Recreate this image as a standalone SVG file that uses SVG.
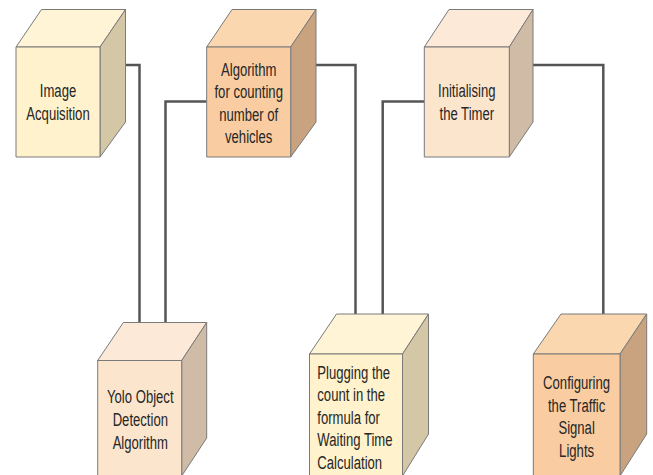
<svg xmlns="http://www.w3.org/2000/svg" width="653" height="475" viewBox="0 0 653 475">
  <style>
    .edge { stroke: #7a7a7a; stroke-width: 1; stroke-linejoin: round; }
    .yel-front { fill: #FFF2CC; }
    .yel-top { fill: #FFF4D6; }
    .yel-side { fill: #D3C7A6; }
    .org-front { fill: #F9CDA1; }
    .org-top { fill: #FBD7AF; }
    .org-side { fill: #C9A380; }
    .pch-front { fill: #FCE5CD; }
    .pch-top { fill: #FDE9D7; }
    .pch-side { fill: #CFBBA6; }
    .label { font-family: "Liberation Sans", Arial, sans-serif; font-size: 19px; fill: #262626; }
    .wire { fill: none; stroke: #555555; stroke-width: 2.5; stroke-linejoin: miter; }
  </style>
  <rect width="653" height="475" fill="#ffffff"/>

  <!-- connectors -->
  <g id="connectors">
    <path class="wire" d="M125.5,65 H139.5 V360.5"/>
    <path class="wire" d="M165.5,322.5 V101.5 H206.7"/>
    <path class="wire" d="M315.7,65 H355.5 V354"/>
    <path class="wire" d="M382.7,314 V101.5 H424.3"/>
    <path class="wire" d="M533,65 H603.3 V314"/>
  </g>

  <!-- Image Acquisition -->
  <g id="image-acquisition">
    <polygon class="yel-top edge" points="16,47 41.5,9.5 125.5,9.5 100,47"/>
    <polygon class="yel-side edge" points="100,47 125.5,9.5 125.5,122 100,157"/>
    <rect class="yel-front edge" x="16" y="47" width="84" height="110"/>
    <g transform="translate(58,0) scale(0.69,1)">
      <text class="label" text-anchor="middle" x="0" y="97">Image</text>
      <text class="label" text-anchor="middle" x="0" y="119.6">Acquisition</text>
    </g>
  </g>

  <!-- Algorithm for counting number of vehicles -->
  <g id="counting-algorithm">
    <polygon class="org-top edge" points="206.7,47 232,9.5 316,9.5 290.7,47"/>
    <polygon class="org-side edge" points="290.7,47 316,9.5 316,122 290.7,157"/>
    <rect class="org-front edge" x="206.7" y="47" width="84" height="110"/>
    <g transform="translate(248.7,0) scale(0.69,1)">
      <text class="label" text-anchor="middle" x="0" y="75.7">Algorithm</text>
      <text class="label" text-anchor="middle" x="0" y="98.3">for counting</text>
      <text class="label" text-anchor="middle" x="0" y="120.9">number of</text>
      <text class="label" text-anchor="middle" x="0" y="143.5">vehicles</text>
    </g>
  </g>

  <!-- Initialising the Timer -->
  <g id="init-timer">
    <polygon class="pch-top edge" points="424.3,47 449,9.5 533,9.5 509.3,47"/>
    <polygon class="pch-side edge" points="509.3,47 533,9.5 533,122 509.3,157"/>
    <rect class="pch-front edge" x="424.3" y="47" width="85" height="110"/>
    <g transform="translate(466.8,0) scale(0.69,1)">
      <text class="label" text-anchor="middle" x="0" y="97.5">Initialising</text>
      <text class="label" text-anchor="middle" x="0" y="120.1">the Timer</text>
    </g>
  </g>

  <!-- Yolo Object Detection Algorithm -->
  <g id="yolo-detection">
    <polygon class="pch-top edge" points="97.7,360.5 123.3,322.5 206.7,322.5 181.7,360.5"/>
    <polygon class="pch-side edge" points="181.7,360.5 206.7,322.5 206.7,438 181.7,476"/>
    <rect class="pch-front edge" x="97.7" y="360.5" width="84" height="116"/>
    <g transform="translate(140.3,0) scale(0.69,1)">
      <text class="label" text-anchor="middle" x="0" y="403.5">Yolo Object</text>
      <text class="label" text-anchor="middle" x="0" y="426.1">Detection</text>
      <text class="label" text-anchor="middle" x="0" y="448.7">Algorithm</text>
    </g>
  </g>

  <!-- Plugging the count into the waiting time formula -->
  <g id="waiting-time">
    <polygon class="yel-top edge" points="309.5,354 336.5,314 428.5,314 402.5,354"/>
    <polygon class="yel-side edge" points="402.5,354 428.5,314 428.5,434 402.5,476"/>
    <rect class="yel-front edge" x="309.5" y="354" width="93" height="122"/>
    <g transform="translate(317.3,0) scale(0.69,1)">
      <text class="label" x="0" y="378.6">Plugging the</text>
      <text class="label" x="0" y="401.2">count in the</text>
      <text class="label" x="0" y="423.8">formula for</text>
      <text class="label" x="0" y="446.4">Waiting Time</text>
      <text class="label" x="0" y="469">Calculation</text>
    </g>
  </g>

  <!-- Configuring the Traffic Signal Lights -->
  <g id="signal-config">
    <polygon class="org-top edge" points="533.3,354 561,314 646.7,314 620,354"/>
    <polygon class="org-side edge" points="620,354 646.7,314 646.7,434 620,476"/>
    <rect class="org-front edge" x="533.3" y="354" width="86.7" height="122"/>
    <g transform="translate(576.6,0) scale(0.69,1)">
      <text class="label" text-anchor="middle" x="0" y="389">Configuring</text>
      <text class="label" text-anchor="middle" x="0" y="411.6">the Traffic</text>
      <text class="label" text-anchor="middle" x="0" y="434.2">Signal</text>
      <text class="label" text-anchor="middle" x="0" y="456.8">Lights</text>
    </g>
  </g>
</svg>
